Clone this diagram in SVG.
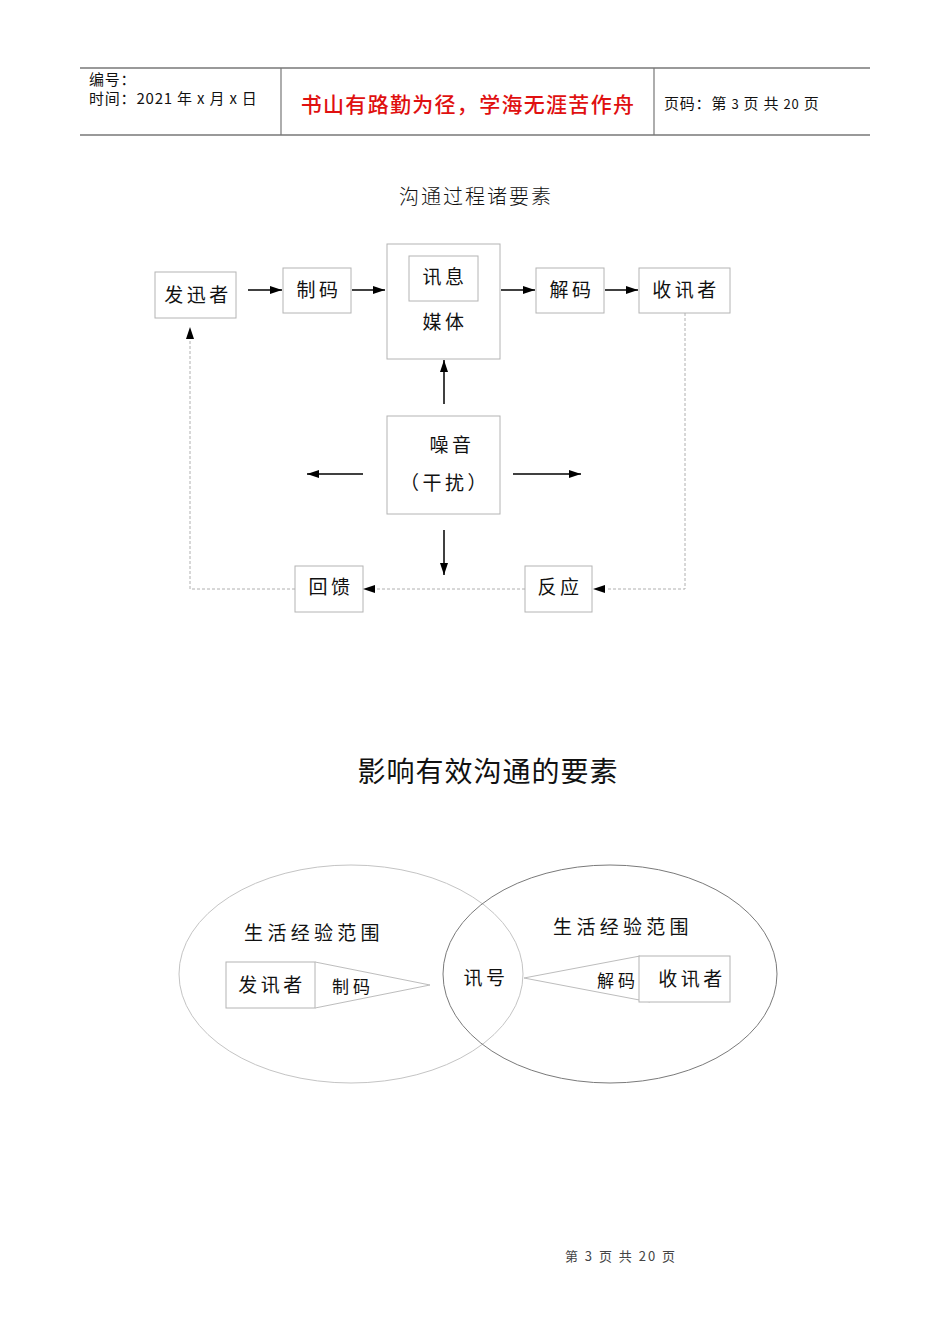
<svg xmlns="http://www.w3.org/2000/svg" width="950" height="1344" viewBox="0 0 950 1344">
<style>
text{font-family:"Noto Sans CJK SC","Liberation Sans",sans-serif;fill:#111}
.hd{font-size:15px;letter-spacing:0.8px}
.box{fill:#fff;stroke:#b4b4b4;stroke-width:1}
.lbl{font-size:19px;text-anchor:middle;letter-spacing:3.5px}
.fld{font-size:19px;text-anchor:middle;letter-spacing:4.3px}
.sm{font-size:17px;text-anchor:middle;letter-spacing:4px}
.ar{stroke:#000;stroke-width:1.5;fill:none}
.dash{stroke:#b0b0b0;stroke-width:1;stroke-dasharray:3,2;fill:none}
.thin{stroke:#bdbdbd;stroke-width:1;fill:none}
</style>
<defs>
<marker id="ah" viewBox="0 0 12 8" refX="12" refY="4" markerWidth="12" markerHeight="8" markerUnits="userSpaceOnUse" orient="auto">
<path d="M0,0 L12,4 L0,8 Z" fill="#000"/>
</marker>
</defs>
<rect width="950" height="1344" fill="#fff"/>

<g id="header">
<line x1="80" y1="68" x2="870" y2="68" stroke="#777" stroke-width="1.5"/>
<line x1="80" y1="135" x2="870" y2="135" stroke="#777" stroke-width="1.5"/>
<line x1="281" y1="68" x2="281" y2="135" stroke="#777" stroke-width="1.2"/>
<line x1="654" y1="68" x2="654" y2="135" stroke="#777" stroke-width="1.2"/>
<text class="hd" x="89" y="85">编号：</text>
<text class="hd" x="89" y="104">时间：2021 年 x 月 x 日</text>
<text x="468" y="112" font-size="21" font-weight="500" text-anchor="middle" letter-spacing="1.3" style="fill:#e01010">书山有路勤为径，学海无涯苦作舟</text>
<text class="hd" x="664" y="109">页码：第 <tspan font-size="13">3</tspan> 页 共 <tspan font-size="13">20</tspan> 页</text>
</g>

<text x="476" y="204" font-size="20" font-weight="300" text-anchor="middle" letter-spacing="2">沟通过程诸要素</text>

<g id="sender"><rect class="box" x="155" y="272" width="81" height="46"/><text class="lbl" x="198" y="302">发迅者</text></g>
<g id="encode"><rect class="box" x="283" y="268" width="68" height="45"/><text class="lbl" x="319" y="297">制码</text></g>
<g id="medium"><rect class="box" x="387" y="244" width="113" height="115"/>
<rect class="box" x="409" y="256" width="69" height="45"/><text class="lbl" x="445" y="284">讯息</text>
<text class="lbl" x="445" y="329">媒体</text></g>
<g id="decode"><rect class="box" x="536" y="268" width="68" height="45"/><text class="lbl" x="572" y="297">解码</text></g>
<g id="receiver"><rect class="box" x="639" y="268" width="91" height="45"/><text class="lbl" x="686" y="297">收讯者</text></g>
<g id="noise"><rect class="box" x="387" y="416" width="113" height="98"/>
<text class="lbl" x="452" y="452">噪音</text><text class="lbl" x="445" y="490">（干扰）</text></g>
<g id="feedback"><rect class="box" x="295" y="566" width="68" height="46"/><text class="lbl" x="331" y="594">回馈</text></g>
<g id="response"><rect class="box" x="525" y="566" width="67" height="46"/><text class="lbl" x="560" y="594">反应</text></g>

<g id="connectors">
<line class="ar" x1="248" y1="290" x2="282" y2="290" marker-end="url(#ah)"/>
<line class="ar" x1="352" y1="290" x2="385" y2="290" marker-end="url(#ah)"/>
<line class="ar" x1="501" y1="290" x2="535" y2="290" marker-end="url(#ah)"/>
<line class="ar" x1="605" y1="290" x2="638" y2="290" marker-end="url(#ah)"/>
<line class="ar" x1="444" y1="404" x2="444" y2="360" marker-end="url(#ah)"/>
<line class="ar" x1="363" y1="474" x2="307" y2="474" marker-end="url(#ah)"/>
<line class="ar" x1="513" y1="474" x2="581" y2="474" marker-end="url(#ah)"/>
<line class="ar" x1="444" y1="530" x2="444" y2="575" marker-end="url(#ah)"/>
<polyline class="dash" points="685,313 685,589 606,589"/>
<path d="M593,589 L605,585 L605,593 Z" fill="#000"/>
<line class="dash" x1="525" y1="589" x2="376" y2="589"/>
<path d="M363,589 L375,585 L375,593 Z" fill="#000"/>
<polyline class="dash" points="295,589 190,589 190,339"/>
<path d="M190,327 L186,339 L194,339 Z" fill="#000"/>
</g>

<text x="488" y="782" font-size="28" text-anchor="middle" letter-spacing="1">影响有效沟通的要素</text>

<g id="left-field">
<ellipse cx="351" cy="974" rx="172" ry="109" fill="none" stroke="#c4c4c4" stroke-width="1"/>
<text class="fld" x="314" y="940">生活经验范围</text>
</g>
<g id="right-field">
<ellipse cx="610" cy="974" rx="167" ry="109" fill="none" stroke="#7a7a7a" stroke-width="1"/>
<text class="fld" x="623" y="934">生活经验范围</text>
</g>
<g id="sender2">
<rect class="box" x="226" y="962" width="89" height="46"/>
<text class="lbl" x="272" y="992">发讯者</text>
<polyline class="thin" points="315,962 430,985 315,1008"/>
<text class="sm" x="353" y="993">制码</text>
</g>
<g id="signal"><text class="lbl" x="486" y="985">讯号</text></g>
<g id="receiver2">
<polyline class="thin" points="640,956 524,978 650,1002"/>
<rect class="box" x="639" y="956" width="91" height="46"/>
<text class="lbl" x="692" y="986">收讯者</text>
<text class="sm" x="618" y="987">解码</text>
</g>

<text x="621" y="1261" font-size="13" text-anchor="middle" letter-spacing="2" style="fill:#444">第 3 页 共 20 页</text>
</svg>
